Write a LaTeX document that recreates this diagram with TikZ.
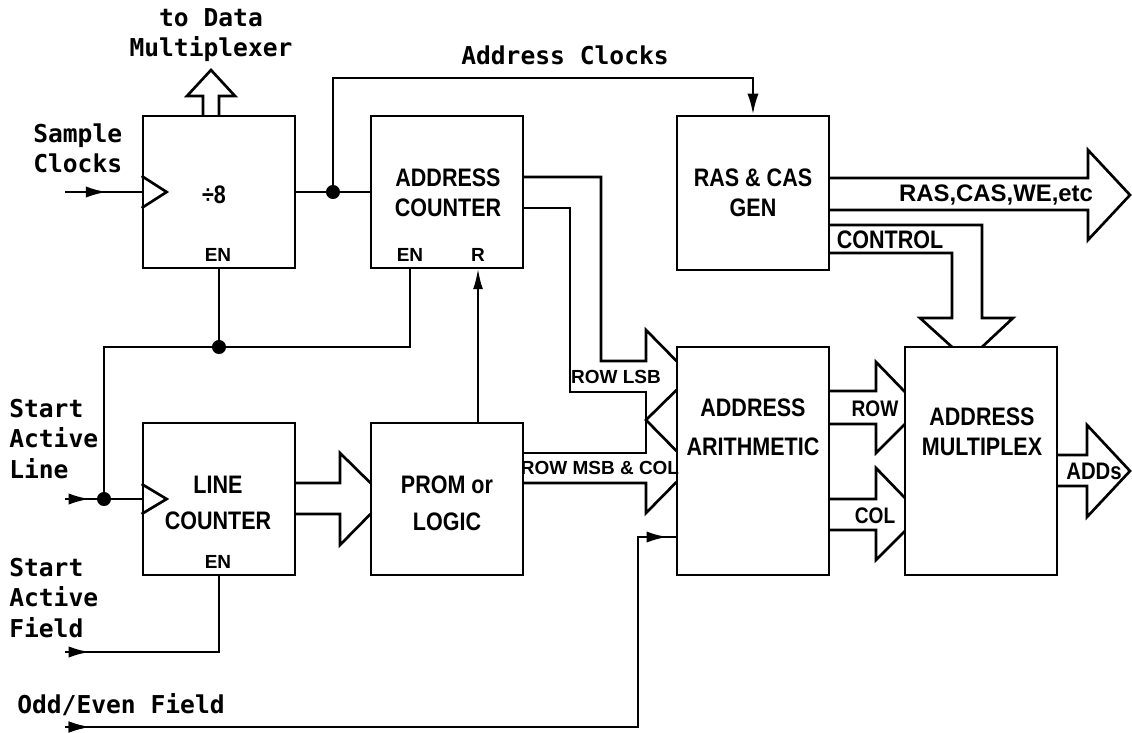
\documentclass[tikz,border=0pt]{standalone}
\usepackage{fontspec}
\usetikzlibrary{arrows.meta,calc,decorations.markings}
\newfontfamily\blkfont[FakeStretch=0.85]{Liberation Sans}
\newfontfamily\widefont{Liberation Sans}
\newfontfamily\monofont{DejaVu Sans Mono}
\begin{document}
\begin{tikzpicture}[x=0.025cm,y=-0.025cm,
  wire/.style={line width=1.9pt,line join=miter},
  bus/.style={line width=1.9pt,line join=miter},
  box/.style={draw,line width=1.9pt,minimum width=3.8cm,minimum height=3.8cm,inner sep=0pt},
  tallbox/.style={box,minimum height=5.7cm},
  blk/.style={font=\blkfont\bfseries\fontsize{18pt}{21pt}\selectfont,align=center,inner sep=0pt},
  sml/.style={font=\widefont\bfseries\fontsize{13.5pt}{15pt}\selectfont,inner sep=0pt},
  lbl/.style={font=\monofont\bfseries\fontsize{17.5pt}{21.5pt}\selectfont,inner sep=0pt},
  tip/.style={-{Latex[length=15pt,width=8pt]}},
  inarrow/.style={postaction={decorate},decoration={markings,mark=at position #1 with {\arrow{Latex[length=15pt,width=8pt]}}}},
  dot/.style={circle,fill,inner sep=0pt,minimum size=10pt}
]
\useasboundingbox (0,0) rectangle (1132,732);

% boxes
\node[box] (div8) at (219,192) {};
\node[box] (ac) at (447,192) {};
\node[box,minimum height=3.85cm] (ras) at (753,193) {};
\node[box] (lc) at (219,499) {};
\node[box] (prom) at (447,499) {};
\node[tallbox] (arith) at (753,461) {};
\node[tallbox] (mux) at (981,461) {};

% box texts
\node[blk] (t8) at (214,195) {÷8};
\node[sml] (en1) at (218,255) {EN};
\node[blk] (tac) at (448,193) {ADDRESS\\COUNTER};
\node[sml] (en2) at (410,255) {EN};
\node[sml] (rr) at (478,255) {R};
\node[blk] (tras) at (753,193) {RAS \& CAS\\GEN};
\node[blk] (tlc) at (218,503) {LINE\\[5pt]COUNTER};
\node[sml] (en3) at (218,562) {EN};
\node[blk] (tprom) at (447,503) {PROM or\\[5pt]LOGIC};
\node[blk] (tarith) at (753,427) {ADDRESS\\[7pt]ARITHMETIC};
\node[blk] (tmux) at (982,432) {ADDRESS\\MULTIPLEX};

% clock triangles
\draw[wire] ($(div8.west)+(0,-16)$) -- ($(div8.west)+(25,0)$) -- ($(div8.west)+(0,16)$);
\draw[wire] ($(lc.west)+(0,-15)$) -- ($(lc.west)+(25,0)$) -- ($(lc.west)+(0,15)$);

% outer labels
\node[lbl,align=center] (tdm) at (211,35) {to Data\\Multiplexer};
\node[lbl] (tak) at (565,55) {Address Clocks};
\node[lbl,align=left,anchor=west] (tsc) at (33,148) {Sample\\Clocks};
\node[lbl,align=left,anchor=west] (tsal) at (9,439) {Start\\Active\\Line};
\node[lbl,align=left,anchor=west] (tsaf) at (9,598) {Start\\Active\\Field};
\node[lbl,anchor=west] (toe) at (17,705) {Odd/Even Field};

% coordinates
\coordinate (sc) at (65,192);
\coordinate (sal) at (65,499);
\coordinate (saf) at (65,652);
\coordinate (oe) at (65,727);
\coordinate (j1) at (333,192);
\coordinate (akl) at (0,78);
\coordinate (enl) at (0,347);
\coordinate (j2) at (219,347);
\coordinate (j3) at (104,499);
\coordinate (acen) at (410,268);
\coordinate (acr) at (478,268);
\coordinate (oex) at (638,0);
\coordinate (oey) at (0,537);

% wires
\draw[wire,inarrow=1.05cm] (sc) -- (div8.west);
\draw[wire] (div8.east) -- (ac.west);
\draw[wire,tip] (j1) -- (j1 |- akl) -- (ras.north |- akl) -- (ras.north);
\node[dot] (d1) at (j1) {};
\draw[wire] (div8.south) -- (j2);
\draw[wire] (acen) -- (acen |- enl) -- (j3 |- enl) -- (j3);
\node[dot] (d2) at (j2) {};
\draw[wire,inarrow=0.62cm] (sal) -- (lc.west);
\node[dot] (d3) at (j3) {};
\draw[wire,inarrow=0.62cm] (saf) -- (lc.south |- saf) -- (lc.south);
\draw[wire,inarrow=0.62cm,postaction={decorate,decoration={markings,mark=at position -0.2cm with {\arrow{Latex[length=15pt,width=8pt]}}}}]
  (oe) -- (oex |- oe) -- (oex |- oey) -- (arith.west |- oey);
\draw[wire,-{Latex[length=15pt,width=7pt]}] (acr |- prom.north) -- (acr);

% to data multiplexer bus
\draw[bus] (203,116) -- (203,96) -- (187,96) -- (211,70) -- (235,96) -- (219,96) -- (219,116);

% address counter outputs -> ROW LSB
\draw[bus] (523.5,177) -- (601,177) -- (601,361) -- (646,361) -- (646,330) -- (676.5,361);
\draw[bus] (523.5,208) -- (570,208) -- (570,392) -- (646,392) -- (646,453) -- (523.5,453);
\draw[bus] (676.5,390) -- (646,420) -- (676.5,451);
\draw[bus] (523.5,483) -- (646,483) -- (646,513) -- (676.5,482);
\node[sml] (trl) at (616,377) {ROW LSB};
\node[sml] (trm) at (600,468) {ROW MSB \& COL};

% line counter -> prom
\draw[bus] (295,483) -- (340,483) -- (340,453) -- (370.5,483);
\draw[bus] (370.5,514) -- (340,545) -- (340,514) -- (295,514);

% RAS outputs
\draw[bus] (829.5,178) -- (1088,178) -- (1088,150) -- (1130,195) -- (1088,240) -- (1088,210) -- (829.5,210);
\node[blk,font=\widefont\bfseries\fontsize{17pt}{20pt}\selectfont] (trcw) at (996,195) {RAS,CAS,WE,etc};
\draw[bus] (829.5,225) -- (982,225) -- (982,318) -- (1013,318) -- (982,347);
\draw[bus] (952,347) -- (920,318) -- (952,318) -- (952,253) -- (829.5,253);
\node[blk] (tctl) at (890,240) {CONTROL};

% ROW / COL buses
\draw[bus] (829.5,391) -- (876,391) -- (876,362) -- (905,392);
\draw[bus] (905,424) -- (876,453) -- (876,424) -- (829.5,424);
\node[blk,font=\blkfont\bfseries\fontsize{16pt}{18pt}\selectfont] (trow) at (875,409) {ROW};
\draw[bus] (829.5,499) -- (876,499) -- (876,468) -- (905,498);
\draw[bus] (905,531) -- (876,560) -- (876,530) -- (829.5,530);
\node[blk,font=\blkfont\bfseries\fontsize{16pt}{18pt}\selectfont] (tcol) at (875,516) {COL};

% ADDs
\draw[bus] (1057,455) -- (1087,455) -- (1087,425) -- (1130,471) -- (1087,517) -- (1087,486) -- (1057,486);
\node[blk,font=\blkfont\bfseries\fontsize{17pt}{18pt}\selectfont] (tadd) at (1094,471) {ADDs};
\end{tikzpicture}
\end{document}
